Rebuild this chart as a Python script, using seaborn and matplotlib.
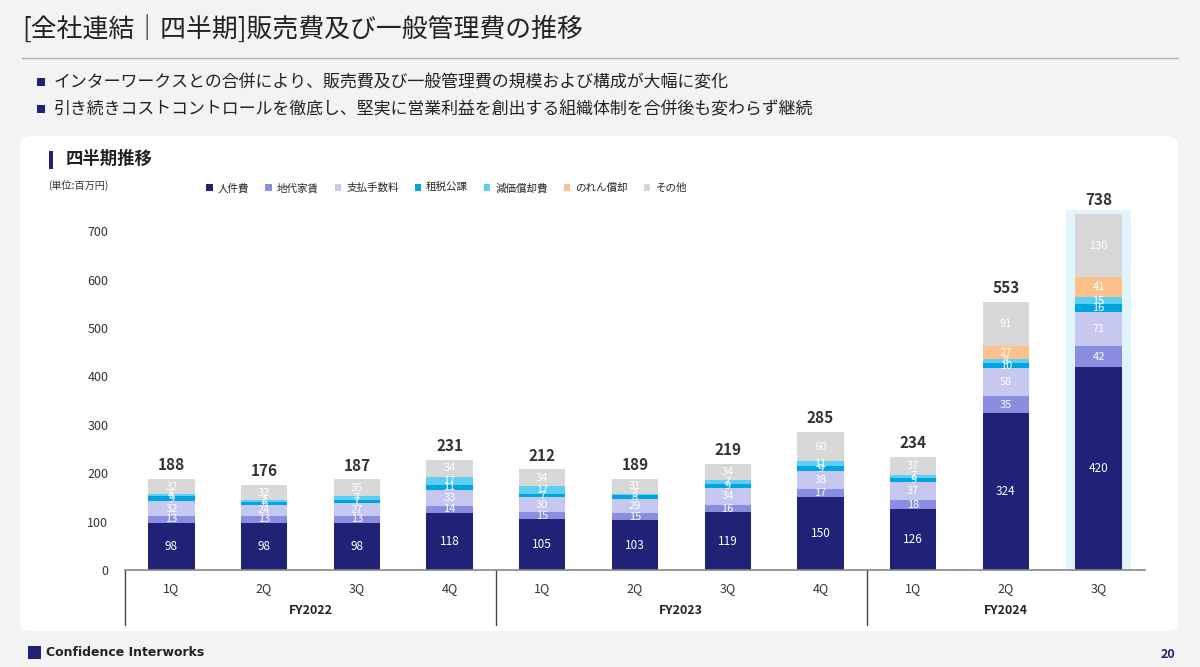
import numpy as np
import pandas as pd
import matplotlib
matplotlib.use("Agg")
import matplotlib.pyplot as plt
import seaborn as sns
from matplotlib.patches import FancyBboxPatch, Rectangle, Patch
from matplotlib.transforms import blended_transform_factory

# データ
years = ["FY2022"] * 4 + ["FY2023"] * 4 + ["FY2024"] * 3
quarters = ["1Q", "2Q", "3Q", "4Q", "1Q", "2Q", "3Q", "4Q", "1Q", "2Q", "3Q"]
jinkenhi = [98, 98, 98, 118, 105, 103, 119, 150, 126, 324, 420]
chidai = [13, 13, 13, 14, 15, 15, 16, 17, 18, 35, 42]
shiharai = [32, 24, 27, 33, 30, 29, 34, 38, 37, 58, 71]
sozei = [9, 6, 7, 11, 7, 8, 9, 9, 9, 10, 16]
genka = [4, 3, 7, 17, 17, 3, 7, 11, 7, 8, 15]
noren = [0, 0, 0, 0, 0, 0, 0, 0, 0, 27, 41]
sonota = [32, 32, 35, 34, 34, 31, 34, 60, 37, 91, 130]
totals = [188, 176, 187, 231, 212, 189, 219, 285, 234, 553, 738]

series_names = ["人件費", "地代家賃", "支払手数料", "租税公課", "減価償却費", "のれん償却", "その他"]
series_vals = [jinkenhi, chidai, shiharai, sozei, genka, noren, sonota]
colors = ["#1f2277", "#8a8de0", "#c7c8f0", "#00a5e0", "#5ccff5", "#fcc28c", "#d8d8d8"]

labels = [f"{y} {q}" for y, q in zip(years, quarters)]
df = pd.DataFrame(dict(zip(series_names, series_vals)), index=labels)
cum = df.cumsum(axis=1)

sns.set_theme(style="white")
plt.rcParams["font.family"] = ["Noto Sans CJK JP", "DejaVu Sans"]

W, H = 1200, 667
fig = plt.figure(figsize=(12, 6.67), dpi=100, facecolor="#f3f3f3")


def fx(x):
    return x / W


def fy(y):
    return 1 - y / H


# 白いパネル（軸より下に描く）
panel = FancyBboxPatch((fx(20), fy(631)), fx(1158), (631 - 136) / H,
                       boxstyle="round,pad=0,rounding_size=0.012",
                       transform=fig.transFigure, facecolor="white",
                       edgecolor="none", zorder=-5)
fig.patches.append(panel)

# タイトル
fig.text(fx(22), fy(30), "[全社連結｜四半期]販売費及び一般管理費の推移", fontsize=18.6,
         color="#222222", va="center", ha="left")
fig.add_artist(plt.Line2D([fx(22), fx(1178)], [fy(58), fy(58)], color="#b0b0b0", lw=1.0,
                          transform=fig.transFigure))

bullets = ["インターワークスとの合併により、販売費及び一般管理費の規模および構成が大幅に変化",
           "引き続きコストコントロールを徹底し、堅実に営業利益を創出する組織体制を合併後も変わらず継続"]
for i, b in enumerate(bullets):
    yy = 82 + i * 27
    fig.patches.append(Rectangle((fx(37), fy(yy + 4)), fx(8), 8 / H, transform=fig.transFigure,
                                 facecolor="#1f2277", edgecolor="none"))
    fig.text(fx(54), fy(yy), b, fontsize=12.2, color="#222222", va="center", ha="left")

# パネル見出し
fig.patches.append(Rectangle((fx(49), fy(169)), fx(4), 18 / H, transform=fig.transFigure,
                             facecolor="#1f2277", edgecolor="none"))
fig.text(fx(66), fy(159), "四半期推移", fontsize=12.5, fontweight="bold", color="#222222",
         va="center", ha="left")
fig.text(fx(48), fy(185), "(単位:百万円)", fontsize=7.3, color="#333333", va="center", ha="left")

# 凡例
handles = [Patch(facecolor=c, edgecolor="none") for c in colors]
fig.legend(handles, series_names, loc="center left", bbox_to_anchor=(fx(202), fy(188)),
           ncol=7, frameon=False, fontsize=7.6, handlelength=0.6, handleheight=0.6,
           handletextpad=0.5, columnspacing=1.5, borderaxespad=0)

# グラフ
ax = fig.add_axes([fx(125), fy(570), fx(1145) - fx(125), (570 - 205) / H])
ax.set_facecolor("none")

# 強調表示
ax.add_patch(Rectangle((len(labels) - 1 - 0.35, 0), 0.7, 744, facecolor="#e1f4fc",
                       edgecolor="none", zorder=0))

for name, c in reversed(list(zip(series_names, colors))):
    sns.barplot(x=cum.index, y=cum[name].values, color=c, width=0.5, ax=ax,
                saturation=1, zorder=2, edgecolor="none")

for i, lab in enumerate(labels):
    for name in series_names:
        v = df.loc[lab, name]
        if v <= 0:
            continue
        mid = cum.loc[lab, name] - v / 2
        fs = 8.5 if name == "人件費" else 8
        ax.text(i, mid, str(v), ha="center", va="center", color="white", fontsize=fs, zorder=5)
    ax.text(i, cum.loc[lab].iloc[-1] + 12, str(totals[i]), ha="center", va="bottom",
            fontsize=11, fontweight="bold", color="#333333", zorder=5)

ax.set_xlim(-0.5, len(labels) - 0.5)
ax.set_ylim(0, 754)
ax.set_yticks(range(0, 701, 100))
ax.tick_params(axis="y", length=0, labelsize=9, labelcolor="#333333", pad=12)
ax.set_xticks(range(len(labels)))
ax.set_xticklabels(quarters)
ax.tick_params(axis="x", length=0, labelsize=9, labelcolor="#333333", pad=9)
ax.set_xlabel("")
ax.set_ylabel("")
for s in ["top", "right", "left"]:
    ax.spines[s].set_visible(False)
ax.spines["bottom"].set_color("#888888")
ax.spines["bottom"].set_linewidth(1.2)

trans = blended_transform_factory(ax.transData, ax.transAxes)
for sx in [-0.5, 3.5, 7.5]:
    ax.plot([sx, sx], [0, -55 / 365], color="#444444", lw=1.0, transform=trans, clip_on=False)
year_pos = {}
for i, y in enumerate(years):
    year_pos.setdefault(y, []).append(i)
for y, pos in year_pos.items():
    ax.text(np.mean(pos), -41 / 365, y, transform=trans, ha="center", va="center",
            fontsize=9, fontweight="bold", color="#222222")

# フッター
fig.patches.append(Rectangle((fx(28), fy(659)), fx(13), 13 / H, transform=fig.transFigure,
                             facecolor="#1f2277", edgecolor="none"))
fig.text(fx(46), fy(653), "Confidence Interworks", fontsize=9, fontweight="bold",
         color="#222222", va="center", ha="left", family=["DejaVu Sans"])
fig.text(fx(1175), fy(654), "20", fontsize=9, fontweight="bold", color="#1f2277",
         va="center", ha="right")

fig.savefig("out.png", dpi=100, facecolor=fig.get_facecolor())
